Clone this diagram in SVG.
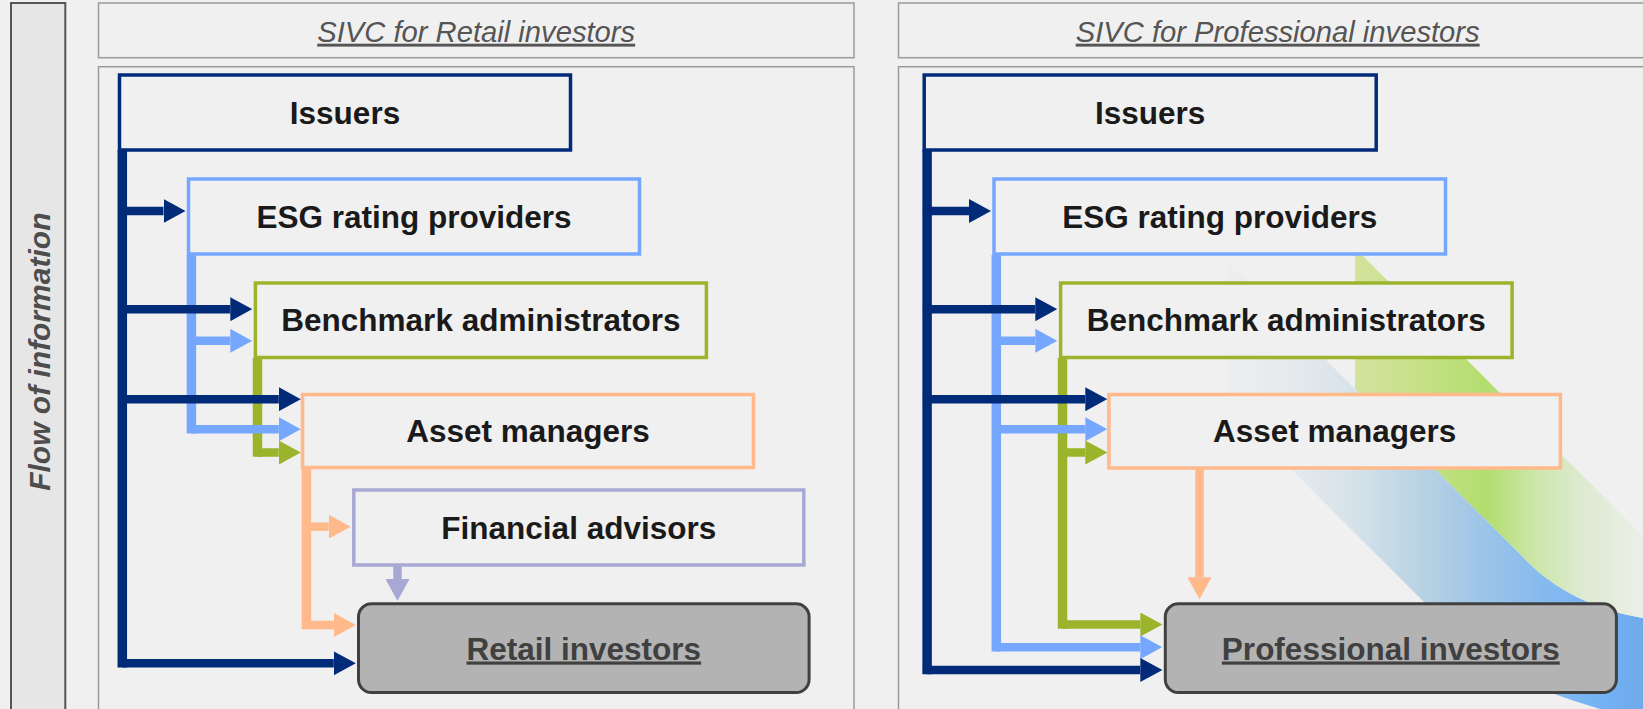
<svg xmlns="http://www.w3.org/2000/svg" width="1643" height="709" viewBox="0 0 1643 709">
  <style>
    .panel { fill: #f0f0f0; stroke: #9a9a9a; stroke-width: 1.5; }
    .box { fill: #f0f0f0; stroke-width: 3.5; }
    .investor { fill: #b3b3b3; stroke: #404040; stroke-width: 3; }
    .label { font-family: "Liberation Sans", Arial, sans-serif; font-weight: bold; font-size: 31.5px; fill: #1a1a1a; text-anchor: middle; }
    .investor-label { font-family: "Liberation Sans", Arial, sans-serif; font-weight: bold; font-size: 31.5px; fill: #404040; text-anchor: middle; text-decoration: underline; }
    .title { font-family: "Liberation Sans", Arial, sans-serif; font-style: italic; font-size: 29.2px; fill: #555555; text-anchor: middle; text-decoration: underline; }
    .side { font-family: "Liberation Sans", Arial, sans-serif; font-style: italic; font-weight: bold; font-size: 30px; fill: #4d4d4d; text-anchor: middle; }
    .c { fill: none; stroke-linecap: butt; }
    .trunk { stroke-width: 9.5; }
    .branch { stroke-width: 8.5; }
    .navy { stroke: #012a78; }
    .sky { stroke: #76a7ff; }
    .olive { stroke: #9bb42b; }
    .peach { stroke: #ffb98b; }
    .lilac { stroke: #a8a8d4; }
  </style>
  <defs>
    <marker id="ah-navy" markerUnits="userSpaceOnUse" markerWidth="22" markerHeight="24" viewBox="0 0 22 24" refX="0" refY="12" orient="auto"><path d="M0,0 L22,12 L0,24 Z" fill="#012a78"/></marker>
    <marker id="ah-sky" markerUnits="userSpaceOnUse" markerWidth="22" markerHeight="24" viewBox="0 0 22 24" refX="0" refY="12" orient="auto"><path d="M0,0 L22,12 L0,24 Z" fill="#76a7ff"/></marker>
    <marker id="ah-olive" markerUnits="userSpaceOnUse" markerWidth="22" markerHeight="24" viewBox="0 0 22 24" refX="0" refY="12" orient="auto"><path d="M0,0 L22,12 L0,24 Z" fill="#9bb42b"/></marker>
    <marker id="ah-peach" markerUnits="userSpaceOnUse" markerWidth="22" markerHeight="24" viewBox="0 0 22 24" refX="0" refY="12" orient="auto"><path d="M0,0 L22,12 L0,24 Z" fill="#ffb98b"/></marker>
    <marker id="ah-lilac" markerUnits="userSpaceOnUse" markerWidth="22" markerHeight="24" viewBox="0 0 22 24" refX="0" refY="12" orient="auto"><path d="M0,0 L22,12 L0,24 Z" fill="#a8a8d4"/></marker>
    <!-- blue band: invisible left of x=1227, then deepening to the right -->
    <linearGradient id="band-blue" gradientUnits="userSpaceOnUse" x1="1100" y1="0" x2="1643" y2="0">
      <stop offset="0" stop-color="#f0f0f0" stop-opacity="0"/>
      <stop offset="0.2339" stop-color="#f0f0f0" stop-opacity="0"/>
      <stop offset="0.2345" stop-color="#edeeef"/>
      <stop offset="0.3499" stop-color="#e6eaed"/>
      <stop offset="0.4696" stop-color="#d6e2ea"/>
      <stop offset="0.6077" stop-color="#b5d0e3"/>
      <stop offset="0.7366" stop-color="#95c1ea"/>
      <stop offset="0.9208" stop-color="#73b2f5"/>
      <stop offset="1" stop-color="#6faaea"/>
    </linearGradient>
    <linearGradient id="band-green" gradientUnits="userSpaceOnUse" x1="1355" y1="0" x2="1643" y2="0">
      <stop offset="0" stop-color="#d3e29c"/>
      <stop offset="0.226" stop-color="#c6e188"/>
      <stop offset="0.458" stop-color="#b2dd6e"/>
      <stop offset="0.608" stop-color="#cbe6a4"/>
      <stop offset="0.781" stop-color="#dcead0"/>
      <stop offset="1" stop-color="#ecefe7"/>
    </linearGradient>
    <clipPath id="right-panel-clip"><rect x="899" y="67" width="800" height="700"/></clipPath>
  </defs>

  <!-- canvas -->
  <rect x="0" y="0" width="1643" height="709" fill="#f0f0f0"/>

  <!-- side label bar and panel frames -->
  <g id="frames">
    <rect x="11" y="3" width="54.3" height="730" fill="#e6e6e6" stroke="#555555" stroke-width="2"/>
    <text class="side" transform="translate(50,351.7) rotate(-90)" x="0" y="0">Flow of information</text>
    <rect class="panel" x="98.5" y="3" width="755.5" height="54.7"/>
    <rect class="panel" x="98.5" y="66.7" width="755.5" height="700"/>
    <rect class="panel" x="898.5" y="3" width="758" height="54.7"/>
    <rect class="panel" x="898.5" y="66.7" width="758" height="700"/>
    <text class="title" x="476.2" y="41.7">SIVC for Retail investors</text>
    <text class="title" x="1277.7" y="41.7">SIVC for Professional investors</text>
  </g>

  <!-- decorative ribbon behind the professional chain -->
  <g id="ribbon" clip-path="url(#right-panel-clip)">
    <path d="M1001.5,180 L1146,180 L1530,564 C1555,589 1595,610 1643,618 L1700,628 L1700,740 L1700,730 C1580,712 1500,678 1458,636 Z" fill="url(#band-blue)"/>
    <path d="M1355,248 L1700,593 L1700,628 L1643,618 C1595,610 1555,589 1530,564 L1355,389 Z" fill="url(#band-green)"/>
  </g>

  <!-- retail chain nodes -->
  <g id="retail-issuers">
    <rect class="box" x="119.5" y="75" width="451" height="75" stroke="#012a78"/>
    <text class="label" x="345" y="123.5">Issuers</text>
  </g>
  <g id="retail-esg">
    <rect class="box" x="188.5" y="179" width="451" height="75" stroke="#76a7ff"/>
    <text class="label" x="414" y="227.7">ESG rating providers</text>
  </g>
  <g id="retail-benchmark">
    <rect class="box" x="255.4" y="283" width="451" height="74.5" stroke="#9bb42b"/>
    <text class="label" x="480.9" y="331">Benchmark administrators</text>
  </g>
  <g id="retail-asset">
    <rect class="box" x="302.5" y="394.5" width="451" height="73" stroke="#ffb98b"/>
    <text class="label" x="528" y="442">Asset managers</text>
  </g>
  <g id="retail-advisors">
    <rect class="box" x="353.8" y="490" width="450" height="75" stroke="#a8a8d4"/>
    <text class="label" x="578.8" y="538.5">Financial advisors</text>
  </g>
  <g id="retail-investors">
    <rect class="investor" x="358.5" y="603.8" width="450.6" height="88.7" rx="13"/>
    <text class="investor-label" x="583.8" y="659.5">Retail investors</text>
  </g>

  <!-- professional chain nodes -->
  <g id="pro-issuers">
    <rect class="box" x="924.2" y="75" width="452" height="75" stroke="#012a78"/>
    <text class="label" x="1150.2" y="123.5">Issuers</text>
  </g>
  <g id="pro-esg">
    <rect class="box" x="994" y="179" width="451.5" height="75" stroke="#76a7ff"/>
    <text class="label" x="1219.7" y="227.7">ESG rating providers</text>
  </g>
  <g id="pro-benchmark">
    <rect class="box" x="1060.6" y="283" width="451.5" height="74.5" stroke="#9bb42b"/>
    <text class="label" x="1286.3" y="331">Benchmark administrators</text>
  </g>
  <g id="pro-asset">
    <rect class="box" x="1108.9" y="394.5" width="451.5" height="73.5" stroke="#ffb98b"/>
    <text class="label" x="1334.6" y="442">Asset managers</text>
  </g>
  <g id="pro-investors">
    <rect class="investor" x="1165.3" y="603.8" width="451.1" height="88.7" rx="13"/>
    <text class="investor-label" x="1390.8" y="659.5">Professional investors</text>
  </g>

  <!-- information flows -->
  <g id="connectors">
    <!-- retail chain -->
    <path class="c trunk peach" d="M306.4,469 V629.2"/>
    <path class="c branch peach" d="M306.4,526.7 H328.7" marker-end="url(#ah-peach)"/>
    <path class="c branch peach" d="M306.4,625 H333.8" marker-end="url(#ah-peach)"/>
    <path class="c branch lilac" d="M397.5,566 V579" marker-end="url(#ah-lilac)"/>

    <path class="c trunk olive" d="M257.5,358 V456.8"/>
    <path class="c branch olive" d="M257.5,452.5 H278.8" marker-end="url(#ah-olive)"/>

    <path class="c trunk sky" d="M191.4,255 V433.5"/>
    <path class="c branch sky" d="M191.4,340.8 H230.3" marker-end="url(#ah-sky)"/>
    <path class="c branch sky" d="M191.4,429.2 H278.8" marker-end="url(#ah-sky)"/>

    <path class="c trunk navy" d="M122.3,150 V667.5"/>
    <path class="c branch navy" d="M122.3,211 H163.5" marker-end="url(#ah-navy)"/>
    <path class="c branch navy" d="M122.3,309.2 H230.3" marker-end="url(#ah-navy)"/>
    <path class="c branch navy" d="M122.3,399.2 H278.8" marker-end="url(#ah-navy)"/>
    <path class="c branch navy" d="M122.3,663.3 H333.8" marker-end="url(#ah-navy)"/>

    <!-- professional chain -->
    <path class="c branch peach" d="M1199.5,469 V577.3" marker-end="url(#ah-peach)"/>

    <path class="c trunk olive" d="M1062.5,358 V628.7"/>
    <path class="c branch olive" d="M1062.5,452.5 H1085.3" marker-end="url(#ah-olive)"/>
    <path class="c branch olive" d="M1062.5,624.5 H1140.3" marker-end="url(#ah-olive)"/>

    <path class="c trunk sky" d="M996.3,255 V651.4"/>
    <path class="c branch sky" d="M996.3,340.8 H1035.3" marker-end="url(#ah-sky)"/>
    <path class="c branch sky" d="M996.3,429.2 H1085.3" marker-end="url(#ah-sky)"/>
    <path class="c branch sky" d="M996.3,647.2 H1140.3" marker-end="url(#ah-sky)"/>

    <path class="c trunk navy" d="M927.1,150 V674.2"/>
    <path class="c branch navy" d="M927.1,211 H969" marker-end="url(#ah-navy)"/>
    <path class="c branch navy" d="M927.1,309.2 H1035.3" marker-end="url(#ah-navy)"/>
    <path class="c branch navy" d="M927.1,399.2 H1085.3" marker-end="url(#ah-navy)"/>
    <path class="c branch navy" d="M927.1,670 H1140.3" marker-end="url(#ah-navy)"/>
  </g>
</svg>
